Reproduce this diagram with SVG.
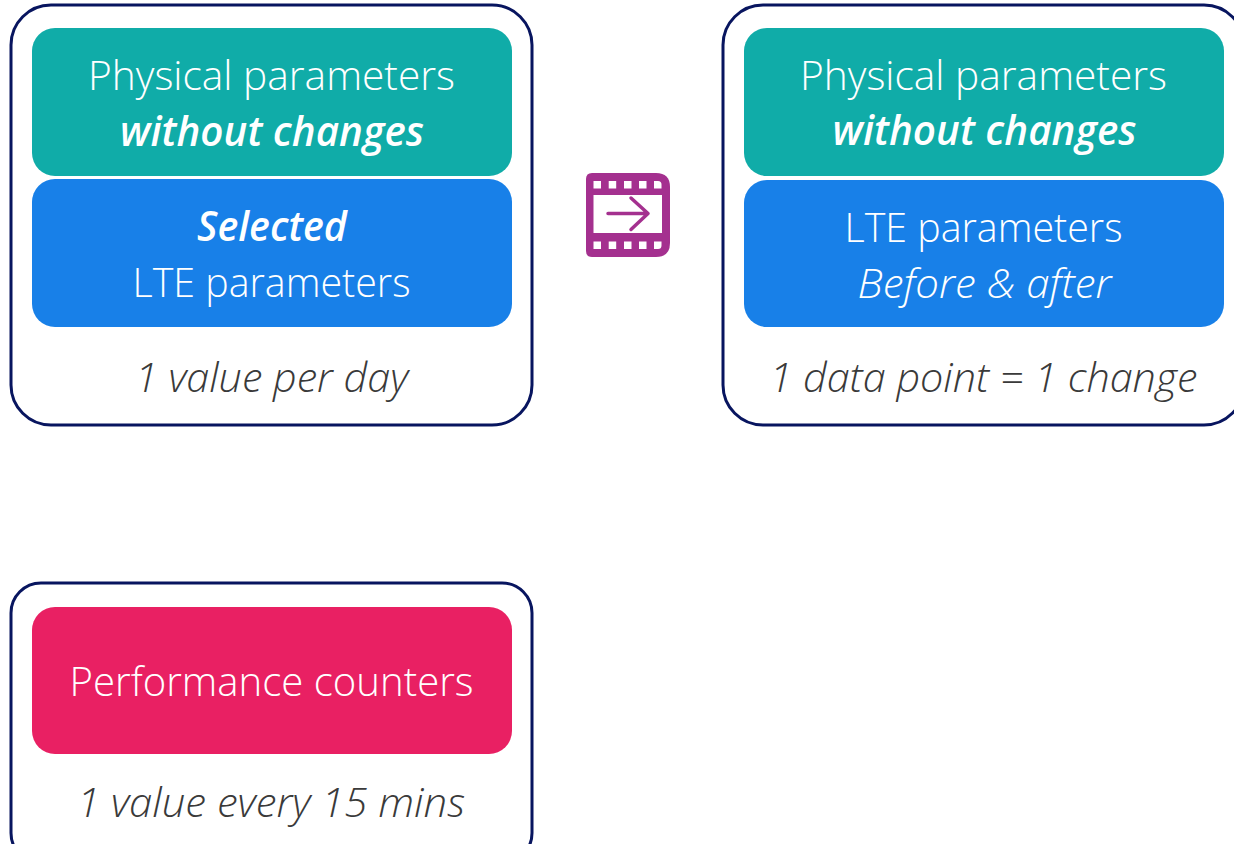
<svg xmlns="http://www.w3.org/2000/svg" width="1234" height="844" viewBox="0 0 1234 844">
<style>
.card{fill:#fff;stroke:#08155f;stroke-width:3}
.t{font-family:"Open Sans","Noto Sans","Liberation Sans",sans-serif;font-size:41px;font-weight:300;text-anchor:middle;fill:#fff}
.b{font-weight:600;font-style:italic}
.i{font-style:italic}
.n{fill:#3a3a3a;font-style:italic}
.teal{fill:#10aca8}.blue{fill:#1880e8}.pink{fill:#e92063}
</style>
<g id="card1"><rect class="card" x="11" y="5" width="521" height="420" rx="40"/>
<rect class="teal" x="32" y="28" width="480" height="148" rx="23"/>
<rect class="blue" x="32" y="179" width="480" height="148" rx="23"/>
<text class="t" x="271.500" y="89.500" textLength="367" lengthAdjust="spacingAndGlyphs">Physical parameters</text>
<text class="t b" x="272" y="145.500" textLength="304" lengthAdjust="spacingAndGlyphs">without changes</text>
<text class="t b" x="272" y="240.500" textLength="150" lengthAdjust="spacingAndGlyphs">Selected</text>
<text class="t" x="271.500" y="296.500" textLength="278" lengthAdjust="spacingAndGlyphs">LTE parameters</text>
<text class="t n" x="271.500" y="391.500" textLength="273" lengthAdjust="spacingAndGlyphs">1 value per day</text></g>
<g id="card2"><rect class="card" x="723" y="5" width="521" height="420" rx="40"/>
<rect class="teal" x="744" y="28" width="480" height="148" rx="23"/>
<rect class="blue" x="744" y="180" width="480" height="147" rx="23"/>
<text class="t" x="983.500" y="89.500" textLength="367" lengthAdjust="spacingAndGlyphs">Physical parameters</text>
<text class="t b" x="984.500" y="144.500" textLength="304" lengthAdjust="spacingAndGlyphs">without changes</text>
<text class="t" x="983.500" y="241.500" textLength="278" lengthAdjust="spacingAndGlyphs">LTE parameters</text>
<text class="t i" x="984.500" y="297.500" textLength="254" lengthAdjust="spacingAndGlyphs">Before &amp; after</text>
<text class="t n" x="983.500" y="391.500" textLength="428" lengthAdjust="spacingAndGlyphs">1 data point = 1 change</text></g>
<g id="card3"><rect class="card" x="11" y="583" width="521" height="280" rx="30"/>
<rect class="pink" x="32" y="607" width="480" height="147" rx="23"/>
<text class="t" x="271.500" y="695.500" textLength="404" lengthAdjust="spacingAndGlyphs">Performance counters</text>
<text class="t n" x="271" y="816.500" textLength="388" lengthAdjust="spacingAndGlyphs">1 value every 15 mins</text></g>
<g id="icon"><path d="M592 173H656Q670 173 670 187V243Q670 257 656 257H592Q586 257 586 251V179Q586 173 592 173Z" fill="#a4308f"/>
<rect x="593.500" y="195" width="68.500" height="38" fill="#fff"/>
<path d="M593.500 181h7.500v7.500h-7.500zM608.700 181h7.500v7.500h-7.500zM624 181h7.500v7.500h-7.500zM639 181h7.500v7.500h-7.500zM654 181h4q3.500 0 3.500 3.500v4h-7.500zM593.500 241.500h7.500v7.500h-7.500zM608.700 241.500h7.500v7.500h-7.500zM624 241.500h7.500v7.500h-7.500zM639 241.500h7.500v7.500h-7.500zM654 241.500h7.500v4q0 3.500-3.500 3.500h-4z" fill="#fff"/>
<path d="M608 213.500h40M631 198l17 15.500-17 16" fill="none" stroke="#a4308f" stroke-width="3.500" stroke-linecap="round" stroke-linejoin="round"/></g>
<g id="connectors"/>
</svg>
